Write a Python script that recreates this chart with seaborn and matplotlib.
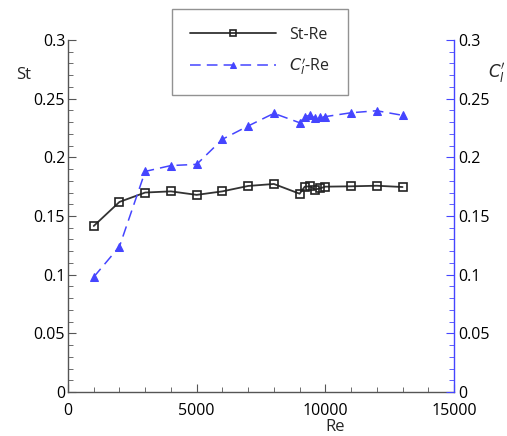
import matplotlib
matplotlib.use("Agg")
import matplotlib.pyplot as plt
import seaborn as sns
import pandas as pd
from matplotlib.ticker import MultipleLocator, FixedLocator

Re = [1000, 2000, 3000, 4000, 5000, 6000, 7000, 8000, 9000, 9200, 9400, 9600, 9800, 10000, 11000, 12000, 13000]
St = [0.1415, 0.162, 0.170, 0.171, 0.168, 0.171, 0.1756, 0.1773, 0.169, 0.175, 0.1753, 0.1725, 0.1736, 0.175, 0.1753, 0.1758, 0.1747]
Cl = [0.098, 0.124, 0.188, 0.193, 0.194, 0.2154, 0.2267, 0.2375, 0.2295, 0.2347, 0.2358, 0.2335, 0.234, 0.2347, 0.238, 0.2397, 0.2358]

x_ticks = [0, 5000, 10000, 15000]
x_ticklabels = ["0", "5000", "10000", "15000"]
y_ticks = [0, 0.05, 0.1, 0.15, 0.2, 0.25, 0.3]
y_ticklabels = ["0", "0.05", "0.1", "0.15", "0.2", "0.25", "0.3"]

sns.set_style("ticks")
plt.rcParams["font.family"] = ["Open Sans", "DejaVu Sans"]
plt.rcParams["mathtext.fontset"] = "dejavusans"

df = pd.DataFrame({"Re": Re, "St": St, "Cl": Cl})

fig = plt.figure(figsize=(5.07, 4.36), dpi=100)
ax = fig.add_axes([68/507, 1-392/436, 386/507, 352/436])
ax2 = ax.twinx()

gray = "#555555"
blue = "#4545ff"

sns.lineplot(data=df, x="Re", y="St", ax=ax, color="#333333", lw=1.3,
             marker="s", markersize=6, markerfacecolor="none",
             markeredgecolor="#222222", markeredgewidth=1.2, label="St-Re", legend=False)
sns.lineplot(data=df, x="Re", y="Cl", ax=ax2, color=blue, lw=1.1,
             marker="^", markersize=6, markerfacecolor=blue, markeredgecolor=blue,
             dashes=False, label=r"$C_l'$-Re", legend=False)
ax2.lines[0].set_dashes([7, 4])

for a in (ax, ax2):
    a.set_xlim(0, 15000)
    a.set_ylim(0, 0.3)
    a.yaxis.set_major_locator(FixedLocator(y_ticks))
    a.set_yticklabels(y_ticklabels)
    a.yaxis.set_minor_locator(MultipleLocator(0.01))

ax.set_xticks(x_ticks)
ax.set_xticklabels(x_ticklabels)
ax.xaxis.set_minor_locator(MultipleLocator(1000))

ax.spines["top"].set_visible(False)
ax2.spines["top"].set_visible(False)
ax.spines["right"].set_visible(False)
ax2.spines["left"].set_visible(False)
ax2.spines["bottom"].set_visible(False)
for s in ("left", "bottom"):
    ax.spines[s].set_color(gray)
    ax.spines[s].set_linewidth(1.0)
ax2.spines["right"].set_color(blue)
ax2.spines["right"].set_linewidth(1.0)

fs = 11.5
ax.tick_params(axis="both", which="major", direction="in", length=6, color=gray,
               labelsize=fs, labelcolor="black", pad=2)
ax.tick_params(axis="x", which="major", pad=8)
ax.tick_params(axis="both", which="minor", direction="in", length=3.5, color=gray)
ax.tick_params(axis="y", right=False)
ax2.tick_params(axis="y", which="major", direction="in", length=6, color=blue,
                labelsize=fs, labelcolor="black", pad=3)
ax2.tick_params(axis="y", which="minor", direction="in", length=3.5, color=blue)

ax.set_xlabel("Re", fontsize=12)
ax.xaxis.set_label_coords((335-68)/386, (392-419)/352)
ax.set_ylabel("St", fontsize=12, rotation=0, va="center", ha="center")
ax.yaxis.set_label_coords((24-68)/386, (392-75)/352)
ax2.set_ylabel(r"$C_l'$", fontsize=12, rotation=0, va="center", ha="center")
ax2.yaxis.set_label_coords((497-68)/386, (392-73)/352)

h1, l1 = ax.get_legend_handles_labels()
h2, l2 = ax2.get_legend_handles_labels()
leg = fig.legend(h1 + h2, l1 + l2, loc="center",
                 bbox_to_anchor=(260/507, 1-52/436), bbox_transform=fig.transFigure,
                 fontsize=11.5, handlelength=5.4, borderpad=1.1, labelspacing=0.8,
                 handletextpad=0.8, fancybox=False, frameon=True, markerscale=0.8)
leg.get_frame().set_edgecolor("#777777")
leg.get_frame().set_linewidth(1.0)

fig.savefig("out.png", dpi=100)
